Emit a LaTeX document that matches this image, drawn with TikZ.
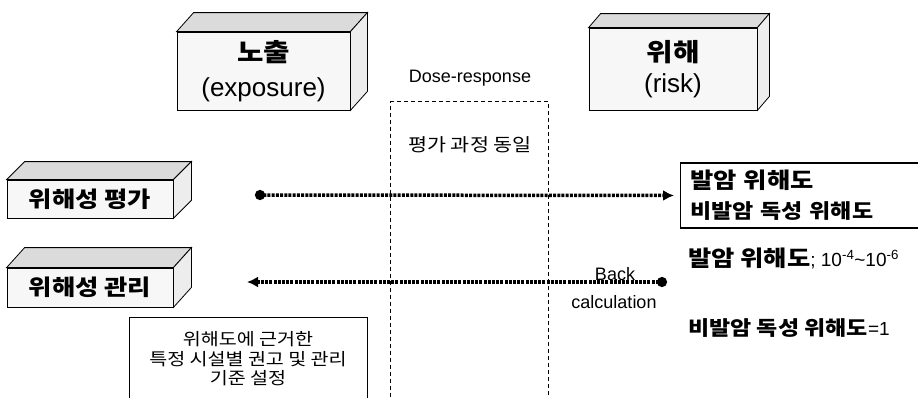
\documentclass[tikz,border=0pt]{standalone}
\usepackage{fontspec}
\setmainfont{Liberation Sans}
\newfontfamily\kr[FakeStretch=1.15]{Noto Sans CJK KR}
\usetikzlibrary{arrows.meta}
\newcommand\cubefaces[3]{%
  \filldraw[fill=gray!28,draw=black,line width=0.8pt] (#1.north west) -- ++(#2,-#3) -- ([shift={(#2,-#3)}]#1.north east) -- (#1.north east) -- cycle;
  \filldraw[fill=gray!14,draw=black,line width=0.8pt] (#1.north east) -- ++(#2,-#3) -- ([shift={(#2,-#3)}]#1.south east) -- (#1.south east) -- cycle;}
\tikzset{
  cubefront/.style={draw, line width=0.8pt, fill=gray!6, inner sep=0pt, align=center},
  flowline/.style={line width=3.5pt, dash pattern=on 3pt off 1.2pt},
  krbold/.style={font=\kr\bfseries\fontsize{20}{30}\selectfont},
  krthin/.style={font=\kr\fontsize{18}{20}\selectfont},
  latin/.style={font=\fontsize{18}{20}\selectfont},
}
\begin{document}
\begin{tikzpicture}[x=1pt,y=-1pt]
\useasboundingbox (0,0) rectangle (918,397);
\clip (0,0) rectangle (918,397);
\fill[white] (0,0) rectangle (918,397);

% 3D boxes
\node[cubefront, minimum width=173pt, minimum height=78pt,
      font=\fontsize{26}{35}\selectfont] (expo) at (263.5,71)
  {{\kr\bfseries\fontsize{25}{35}\selectfont 노출}\\(exposure)};
\cubefaces{expo}{17}{19}
\node[cubefront, minimum width=168pt, minimum height=82pt,
      font=\fontsize{26}{31}\selectfont] (risk) at (673,69)
  {{\kr\bfseries\fontsize{25}{31}\selectfont 위해}\\(risk)};
\cubefaces{risk}{12}{14}
\node[cubefront, font=\kr\bfseries\fontsize{22}{26}\selectfont, minimum width=166pt, minimum height=38pt] (eval) at (90,199) {위해성 평가};
\cubefaces{eval}{18}{18}
\node[cubefront, font=\kr\bfseries\fontsize{22}{26}\selectfont, minimum width=166pt, minimum height=39pt] (mgmt) at (90,287.5) {위해성 관리};
\cubefaces{mgmt}{18}{20}

% dose-response dashed box
\node[latin] (dr) at (470,78) {Dose-response};
\node[draw, line width=1pt, dash pattern=on 4pt off 3pt, anchor=north west,
      minimum width=158pt, minimum height=310pt, inner sep=0pt] (dbox) at (390,101) {};
\node[krthin] (same) at (470,145) {평가 과정 동일};

% right box
\node[draw, line width=1.2pt, anchor=west, text width=225pt, align=left,
      minimum height=65pt, inner xsep=10pt, krbold] (rbox) at (680,195.5)
  {{\fontsize{22}{30}\selectfont 발암 위해도}\\비발암 독성 위해도};
\node[anchor=west, inner sep=0pt] (carc) at (688,258)
  {{\kr\bfseries\fontsize{22}{24}\selectfont 발암 위해도}{\fontsize{19}{20}\selectfont; 10\textsuperscript{-4}\textasciitilde 10\textsuperscript{-6}}};
\node[anchor=west, inner sep=0pt] (noncarc) at (688,328)
  {{\kr\bfseries\fontsize{20}{22}\selectfont 비발암 독성 위해도}{\fontsize{19}{20}\selectfont =1}};

% bottom box
\node[draw, line width=1.2pt, anchor=north west, minimum width=238pt,
      minimum height=100pt, inner sep=0pt] (gbox) at (129,317) {};
\node[align=center, font=\kr\fontsize{17}{19.5}\selectfont] (gtext) at (248,359)
  {위해도에 근거한\\특정 시설별 권고 및 관리\\기준 설정};

% arrows
\coordinate (ua) at (255,195);
\coordinate (lb) at (667,282);
\coordinate (la) at (247,282);
\draw[flowline, {Circle[length=10pt]}-{Latex[length=11pt,width=11pt]}, shorten >=6pt] (ua) -- (rbox.west);
\draw[flowline, {Circle[length=10pt]}-{Latex[length=11pt,width=11pt]}] (lb) -- (la);
\node[latin] (back) at (615,274) {Back};
\node[latin] (calc) at (614,302) {calculation};
\end{tikzpicture}
\end{document}
